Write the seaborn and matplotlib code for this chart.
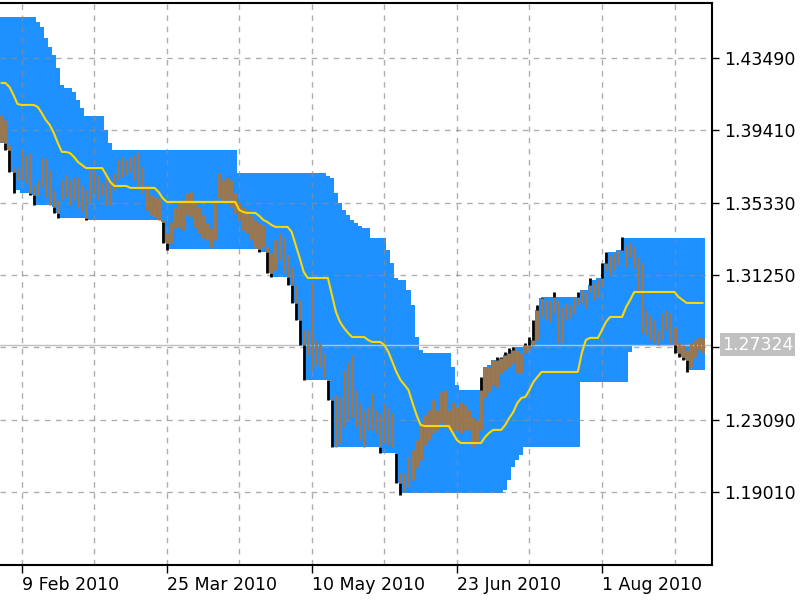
import numpy as np
import matplotlib
matplotlib.use("Agg")
import matplotlib.pyplot as plt
import seaborn as sns

sns.set_theme(style="white")
plt.rcParams['font.family'] = ['DejaVu Sans']

# bar highs / lows (one bar per trading day)
highs = [
    1.4027, 1.3999, 1.3858, 1.3728, 1.3728, 1.3830, 1.3802, 1.3813, 1.3633, 1.3661,
    1.3785, 1.3785, 1.3717, 1.3604, 1.3548, 1.3661, 1.3689, 1.3661, 1.3678, 1.3678,
    1.3633, 1.3604, 1.3717, 1.3717, 1.3689, 1.3644, 1.3678, 1.3661, 1.3700, 1.3774,
    1.3791, 1.3774, 1.3791, 1.3802, 1.3819, 1.3734, 1.3633, 1.3576, 1.3565, 1.3559,
    1.3435, 1.3362, 1.3424, 1.3503, 1.3531, 1.3548, 1.3587, 1.3593, 1.3531, 1.3509,
    1.3463, 1.3418, 1.3390, 1.3548, 1.3700, 1.3661, 1.3678, 1.3661, 1.3587, 1.3537,
    1.3509, 1.3492, 1.3463, 1.3435, 1.3418, 1.3407, 1.3283, 1.3249, 1.3322, 1.3362,
    1.3339, 1.3238, 1.3170, 1.3069, 1.2984, 1.2815, 1.2815, 1.3080, 1.2758, 1.2741,
    1.2685, 1.2533, 1.2437, 1.2448, 1.2437, 1.2589, 1.2634, 1.2674, 1.2476, 1.2403,
    1.2364, 1.2381, 1.2459, 1.2364, 1.2347, 1.2403, 1.2375, 1.2347, 1.2121, 1.2008,
    1.2008, 1.2099, 1.2138, 1.2194, 1.2290, 1.2335, 1.2364, 1.2420, 1.2364, 1.2465,
    1.2476, 1.2364, 1.2409, 1.2381, 1.2409, 1.2392, 1.2364, 1.2324, 1.2307, 1.2550,
    1.2606, 1.2606, 1.2646, 1.2663, 1.2663, 1.2691, 1.2713, 1.2719, 1.2702, 1.2685,
    1.2741, 1.2775, 1.2871, 1.2956, 1.3001, 1.2984, 1.2984, 1.3029, 1.2984, 1.2945,
    1.2967, 1.2956, 1.3001, 1.3029, 1.3040, 1.3029, 1.3108, 1.3080, 1.3097, 1.3193,
    1.3255, 1.3238, 1.3255, 1.3266, 1.3339, 1.3294, 1.3311, 1.3283, 1.3227, 1.3193,
    1.2928, 1.2899, 1.2871, 1.2815, 1.2911, 1.2928, 1.2911, 1.2832, 1.2741, 1.2730,
    1.2702, 1.2741, 1.2758, 1.2775, 1.2770,
]
lows = [
    1.3875, 1.3830, 1.3706, 1.3587, 1.3661, 1.3661, 1.3644, 1.3576, 1.3520, 1.3576,
    1.3621, 1.3565, 1.3520, 1.3475, 1.3446, 1.3548, 1.3565, 1.3520, 1.3548, 1.3503,
    1.3480, 1.3435, 1.3531, 1.3587, 1.3548, 1.3576, 1.3520, 1.3520, 1.3604, 1.3661,
    1.3678, 1.3689, 1.3706, 1.3661, 1.3621, 1.3587, 1.3492, 1.3463, 1.3452, 1.3435,
    1.3305, 1.3266, 1.3305, 1.3390, 1.3396, 1.3379, 1.3463, 1.3452, 1.3396, 1.3362,
    1.3334, 1.3322, 1.3277, 1.3322, 1.3559, 1.3531, 1.3548, 1.3509, 1.3475, 1.3435,
    1.3379, 1.3362, 1.3322, 1.3277, 1.3255, 1.3283, 1.3136, 1.3114, 1.3153, 1.3210,
    1.3136, 1.3069, 1.2967, 1.2871, 1.2730, 1.2533, 1.2674, 1.2589, 1.2617, 1.2606,
    1.2550, 1.2420, 1.2155, 1.2155, 1.2177, 1.2268, 1.2307, 1.2324, 1.2268, 1.2194,
    1.2155, 1.2251, 1.2251, 1.2234, 1.2121, 1.2177, 1.2166, 1.2155, 1.1952, 1.1884,
    1.1912, 1.1929, 1.1969, 1.2042, 1.2082, 1.2166, 1.2194, 1.2234, 1.2251, 1.2290,
    1.2268, 1.2251, 1.2251, 1.2251, 1.2234, 1.2251, 1.2251, 1.2155, 1.2177, 1.2251,
    1.2437, 1.2465, 1.2505, 1.2493, 1.2572, 1.2589, 1.2606, 1.2629, 1.2572, 1.2572,
    1.2685, 1.2702, 1.2730, 1.2758, 1.2888, 1.2871, 1.2860, 1.2911, 1.2741, 1.2741,
    1.2871, 1.2882, 1.2911, 1.2956, 1.2967, 1.2939, 1.3029, 1.2984, 1.3001, 1.3057,
    1.3153, 1.3125, 1.3153, 1.3181, 1.3255, 1.3170, 1.3227, 1.3164, 1.3023, 1.2798,
    1.2787, 1.2758, 1.2741, 1.2730, 1.2758, 1.2815, 1.2741, 1.2685, 1.2663, 1.2646,
    1.2578, 1.2606, 1.2663, 1.2702, 1.2685,
]

# channel: upper band, lower band, middle line
upper = [
    1.4580, 1.4580, 1.4580, 1.4580, 1.4580, 1.4580, 1.4580, 1.4580, 1.4580, 1.4552,
    1.4524, 1.4462, 1.4411, 1.4366, 1.4292, 1.4197, 1.4180, 1.4180, 1.4157, 1.4112,
    1.4067, 1.4022, 1.4022, 1.4022, 1.4022, 1.4022, 1.3943, 1.3869, 1.3830, 1.3830,
    1.3830, 1.3830, 1.3830, 1.3830, 1.3830, 1.3830, 1.3830, 1.3830, 1.3830, 1.3830,
    1.3830, 1.3830, 1.3830, 1.3830, 1.3830, 1.3830, 1.3830, 1.3830, 1.3830, 1.3830,
    1.3830, 1.3830, 1.3830, 1.3830, 1.3830, 1.3830, 1.3830, 1.3830, 1.3830, 1.3700,
    1.3700, 1.3700, 1.3700, 1.3700, 1.3700, 1.3700, 1.3700, 1.3700, 1.3700, 1.3700,
    1.3700, 1.3700, 1.3700, 1.3700, 1.3700, 1.3700, 1.3700, 1.3700, 1.3700, 1.3700,
    1.3700, 1.3683, 1.3672, 1.3587, 1.3531, 1.3492, 1.3463, 1.3435, 1.3418, 1.3401,
    1.3390, 1.3390, 1.3334, 1.3334, 1.3334, 1.3334, 1.3266, 1.3193, 1.3108, 1.3097,
    1.3097, 1.3040, 1.2956, 1.2775, 1.2702, 1.2685, 1.2685, 1.2685, 1.2685, 1.2685,
    1.2685, 1.2685, 1.2606, 1.2505, 1.2476, 1.2476, 1.2476, 1.2476, 1.2476, 1.2476,
    1.2606, 1.2617, 1.2646, 1.2646, 1.2657, 1.2674, 1.2685, 1.2702, 1.2719, 1.2719,
    1.2730, 1.2730, 1.2758, 1.2928, 1.2995, 1.3001, 1.3001, 1.3001, 1.3001, 1.3001,
    1.3001, 1.3001, 1.3001, 1.3001, 1.3040, 1.3040, 1.3069, 1.3097, 1.3108, 1.3108,
    1.3193, 1.3255, 1.3255, 1.3266, 1.3266, 1.3334, 1.3334, 1.3334, 1.3334, 1.3334,
    1.3334, 1.3334, 1.3334, 1.3334, 1.3334, 1.3334, 1.3334, 1.3334, 1.3334, 1.3334,
    1.3334, 1.3334, 1.3334, 1.3334, 1.3334,
]
lower = [
    1.3869, 1.3869, 1.3830, 1.3706, 1.3604, 1.3587, 1.3587, 1.3587, 1.3576, 1.3520,
    1.3520, 1.3520, 1.3520, 1.3509, 1.3475, 1.3446, 1.3446, 1.3446, 1.3446, 1.3446,
    1.3446, 1.3446, 1.3435, 1.3435, 1.3435, 1.3435, 1.3435, 1.3435, 1.3435, 1.3435,
    1.3435, 1.3435, 1.3435, 1.3435, 1.3435, 1.3435, 1.3435, 1.3435, 1.3435, 1.3435,
    1.3424, 1.3305, 1.3272, 1.3272, 1.3272, 1.3272, 1.3272, 1.3272, 1.3272, 1.3272,
    1.3272, 1.3272, 1.3272, 1.3272, 1.3272, 1.3272, 1.3272, 1.3272, 1.3272, 1.3272,
    1.3272, 1.3272, 1.3272, 1.3272, 1.3272, 1.3255, 1.3255, 1.3136, 1.3114, 1.3114,
    1.3114, 1.3114, 1.3069, 1.2967, 1.2871, 1.2730, 1.2533, 1.2533, 1.2533, 1.2533,
    1.2533, 1.2533, 1.2420, 1.2155, 1.2155, 1.2155, 1.2155, 1.2155, 1.2155, 1.2155,
    1.2155, 1.2155, 1.2155, 1.2155, 1.2155, 1.2121, 1.2121, 1.2121, 1.2121, 1.1952,
    1.1895, 1.1895, 1.1895, 1.1895, 1.1895, 1.1895, 1.1895, 1.1895, 1.1895, 1.1895,
    1.1895, 1.1895, 1.1895, 1.1895, 1.1895, 1.1895, 1.1895, 1.1895, 1.1895, 1.1895,
    1.1895, 1.1895, 1.1895, 1.1895, 1.1895, 1.1912, 1.1969, 1.2042, 1.2082, 1.2110,
    1.2155, 1.2155, 1.2155, 1.2155, 1.2155, 1.2155, 1.2155, 1.2155, 1.2155, 1.2155,
    1.2155, 1.2155, 1.2155, 1.2155, 1.2522, 1.2522, 1.2522, 1.2522, 1.2522, 1.2522,
    1.2522, 1.2522, 1.2522, 1.2522, 1.2522, 1.2522, 1.2691, 1.2730, 1.2730, 1.2730,
    1.2730, 1.2730, 1.2730, 1.2730, 1.2730, 1.2730, 1.2730, 1.2730, 1.2685, 1.2663,
    1.2646, 1.2589, 1.2589, 1.2589, 1.2589,
]
middle = [
    1.4208, 1.4208, 1.4185, 1.4140, 1.4089, 1.4084, 1.4084, 1.4084, 1.4084, 1.4073,
    1.4039, 1.3999, 1.3971, 1.3926, 1.3869, 1.3819, 1.3819, 1.3813, 1.3791, 1.3762,
    1.3745, 1.3728, 1.3728, 1.3728, 1.3728, 1.3728, 1.3689, 1.3650, 1.3627, 1.3627,
    1.3627, 1.3627, 1.3616, 1.3616, 1.3616, 1.3616, 1.3616, 1.3616, 1.3616, 1.3593,
    1.3559, 1.3537, 1.3537, 1.3537, 1.3537, 1.3537, 1.3537, 1.3537, 1.3537, 1.3537,
    1.3537, 1.3537, 1.3537, 1.3537, 1.3537, 1.3537, 1.3537, 1.3537, 1.3537, 1.3492,
    1.3480, 1.3475, 1.3475, 1.3475, 1.3458, 1.3435, 1.3424, 1.3407, 1.3396, 1.3396,
    1.3396, 1.3396, 1.3368, 1.3294, 1.3221, 1.3142, 1.3108, 1.3108, 1.3108, 1.3108,
    1.3108, 1.3108, 1.3012, 1.2916, 1.2860, 1.2826, 1.2798, 1.2775, 1.2775, 1.2775,
    1.2775, 1.2758, 1.2747, 1.2747, 1.2747, 1.2730, 1.2691, 1.2634, 1.2578, 1.2533,
    1.2505, 1.2476, 1.2403, 1.2335, 1.2279, 1.2273, 1.2273, 1.2273, 1.2273, 1.2273,
    1.2273, 1.2273, 1.2234, 1.2194, 1.2177, 1.2177, 1.2177, 1.2177, 1.2177, 1.2177,
    1.2211, 1.2234, 1.2251, 1.2251, 1.2251, 1.2279, 1.2318, 1.2352, 1.2403, 1.2431,
    1.2437, 1.2476, 1.2522, 1.2550, 1.2578, 1.2578, 1.2578, 1.2578, 1.2578, 1.2578,
    1.2578, 1.2578, 1.2578, 1.2578, 1.2685, 1.2758, 1.2770, 1.2770, 1.2770, 1.2815,
    1.2860, 1.2888, 1.2888, 1.2888, 1.2888, 1.2945, 1.2984, 1.3029, 1.3029, 1.3029,
    1.3029, 1.3029, 1.3029, 1.3029, 1.3029, 1.3029, 1.3029, 1.3029, 1.3001, 1.2984,
    1.2967, 1.2967, 1.2967, 1.2967, 1.2967,
]

last_price = 1.27324
price_ticks = [1.19010, 1.23090, 1.27170, 1.31250, 1.35330, 1.39410, 1.43490]
date_labels = ['9 Feb 2010', '25 Mar 2010', '10 May 2010', '23 Jun 2010', '1 Aug 2010']
date_bars = [5, 41, 77, 113, 149]
grid_bars = [23, 59, 95, 131, 167]

hi = np.array(highs)
lo = np.array(lows)
up = np.array(upper)
dn = np.array(lower)
idx = np.arange(len(hi))

fig = plt.figure(figsize=(8, 6), dpi=100)
ax = fig.add_axes([0, 35 / 600, 712 / 800, 562 / 600])

# filled channel, one column per bar
ax.bar(idx, up - dn, bottom=dn, width=1.0, color='#1E90FF', linewidth=0, zorder=1)

# price bars: brown inside the channel, black where they poke out
brown = '#A8743F'
top_in = np.minimum(hi, up)
bot_in = np.maximum(lo, dn)
m = top_in > bot_in
ax.vlines(idx[m], bot_in[m], top_in[m], color=brown, lw=2.0, zorder=3)
m = hi > up
ax.vlines(idx[m], np.maximum(up, lo)[m], hi[m], color='black', lw=2.0, zorder=3)
m = lo < dn
ax.vlines(idx[m], lo[m], np.minimum(dn, hi)[m], color='black', lw=2.0, zorder=3)

sns.lineplot(x=idx, y=middle, ax=ax, color='#FFD700', lw=1.5, zorder=4)

ax.axhline(last_price, color='#C0C0C0', lw=1, zorder=2)

ax.set_xlim(-0.35, 176.3)
ax.set_ylim(1.1489, 1.4659)

ax.set_axisbelow('line')
ax.grid(True, which='both', color='#8C8C8C', alpha=0.7, linestyle=(0, (4, 4)), linewidth=1.0)

ax.yaxis.tick_right()
ax.set_yticks(price_ticks)
ax.set_yticklabels(['' if abs(v - 1.27170) < 1e-6 else f'{v:.5f}' for v in price_ticks])
ax.tick_params(axis='y', which='major', right=True, left=False, direction='out',
               length=5, width=1, pad=4, labelsize=12.5, colors='black')

ax.set_xticks(date_bars)
ax.set_xticklabels(date_labels, ha='left')
ax.set_xticks(grid_bars, minor=True)
ax.tick_params(axis='x', which='major', bottom=True, direction='out',
               length=6, width=1, pad=2, labelsize=12.5, colors='black')
ax.tick_params(axis='x', which='minor', length=0)

for side in ['top', 'right', 'bottom']:
    ax.spines[side].set_visible(True)
    ax.spines[side].set_color('black')
    ax.spines[side].set_linewidth(1.5)
ax.spines['left'].set_visible(False)

ax.annotate(f'{last_price:.5f}', xy=(1.0, last_price), xycoords=('axes fraction', 'data'),
            xytext=(10, 0), textcoords='offset pixels', ha='left', va='center',
            color='white', fontsize=12.5,
            bbox=dict(boxstyle='square,pad=0.12', fc='#C0C0C0', ec='none'))

ax.set_xlabel('')
ax.set_ylabel('')
fig.savefig('out.png', dpi=100)
